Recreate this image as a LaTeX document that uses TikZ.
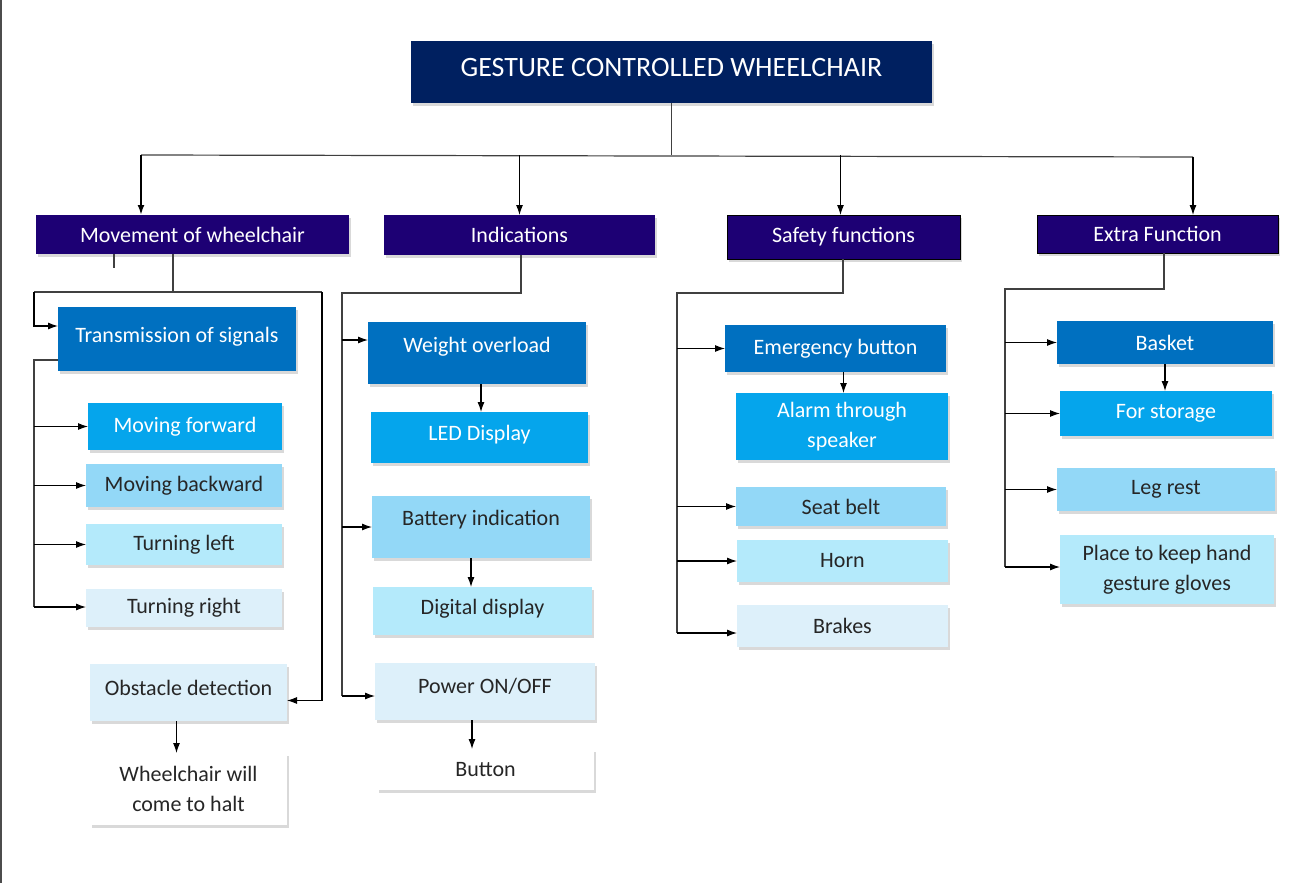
\documentclass[tikz,border=0pt]{standalone}
\usepackage{fontspec}
\setmainfont{Carlito}
\usetikzlibrary{arrows.meta,shadows}
\definecolor{titleblue}{HTML}{002060}
\definecolor{hdrblue}{HTML}{1D0074}
\definecolor{levelA}{HTML}{0070C0}
\definecolor{levelB}{HTML}{05A5EC}
\definecolor{levelC}{HTML}{93D8F7}
\definecolor{levelD}{HTML}{B4EAFB}
\definecolor{levelE}{HTML}{DDF0FA}
\definecolor{linegray}{HTML}{404040}
\begin{document}
\begin{tikzpicture}[x=1pt,y=-1pt,
            box/.style={rectangle, inner sep=2pt, outer sep=0pt, align=center,
                font=\fontsize{22}{30}\selectfont,
                drop shadow={shadow xshift=2pt, shadow yshift=-3pt, opacity=0.3}},
            title box/.style={box, fill=titleblue, text=white, font=\fontsize{28}{32}\selectfont},
            hdr box/.style={box, fill=hdrblue, text=white},
            a box/.style={box, fill=levelA, text=white},
            b box/.style={box, fill=levelB, text=white},
            c box/.style={box, fill=levelC, text=black!85},
            d box/.style={box, fill=levelD, text=black!85},
            e box/.style={box, fill=levelE, text=black!85},
            w box/.style={box, fill=white, text=black!85},
            line/.style={draw=linegray, line width=1.2pt},
            arr/.style={draw=black, line width=1.1pt, -{Latex[length=10pt,width=7pt]}}
    ]
        \useasboundingbox (0,0) rectangle (1298,883);
        \draw[line width=1.5pt, black!70] (1,0) -- (1,883);

        % Title
        \node[title box, text depth=10pt, minimum width=521, minimum height=62] (title) at (671.5,72) {GESTURE CONTROLLED WHEELCHAIR};

        % Main headings
        \node[hdr box, minimum width=313, minimum height=39] (move) at (192.5,234.5) {Movement of wheelchair};
        \node[hdr box, minimum width=271, minimum height=40] (indic) at (519.5,235) {Indications};
        \node[hdr box, draw=black, minimum width=233, minimum height=44] (safety) at (843.5,237) {Safety functions};
        \node[hdr box, draw=black, minimum width=241, minimum height=38] (extra) at (1157.5,234) {Extra Function};

        % Movement of wheelchair
        \node[a box, text depth=9pt, minimum width=238, minimum height=64] (trans) at (177,339) {Transmission of signals};
        \node[b box, minimum width=194, minimum height=47] (fwd) at (185,426.5) {Moving forward};
        \node[c box, minimum width=196, minimum height=43] (bwd) at (184,485.5) {Moving backward};
        \node[d box, minimum width=196, minimum height=41] (tleft) at (184,544.5) {Turning left};
        \node[e box, minimum width=196, minimum height=38] (tright) at (184,608) {Turning right};
        \node[e box, text depth=10pt, minimum width=197, minimum height=57] (obst) at (188.5,692.5) {Obstacle detection};
        \node[w box, minimum width=197, minimum height=72] (halt) at (188.5,789) {Wheelchair will\\come to halt};

        % Indications
        \node[a box, text depth=17pt, minimum width=218, minimum height=62] (weight) at (477,353) {Weight overload};
        \node[b box, text depth=10pt, minimum width=217, minimum height=51] (led) at (479.5,437.5) {LED Display};
        \node[c box, text depth=18pt, minimum width=218, minimum height=62] (battery) at (481,527) {Battery indication};
        \node[d box, text depth=9pt, minimum width=219, minimum height=48] (digital) at (482.5,611) {Digital display};
        \node[e box, text depth=12pt, minimum width=220, minimum height=57] (power) at (485,691.5) {Power ON/OFF};
        \node[w box, minimum width=217, minimum height=41] (button) at (485.5,769.5) {Button};

        % Safety functions
        \node[a box, minimum width=221, minimum height=47] (emerg) at (835.5,348.5) {Emergency button};
        \node[b box, minimum width=212, minimum height=67] (alarm) at (842,426.5) {Alarm through\\speaker};
        \node[c box, minimum width=210, minimum height=39] (seatbelt) at (841,506.5) {Seat belt};
        \node[d box, minimum width=211, minimum height=42] (horn) at (842.5,561) {Horn};
        \node[e box, minimum width=211, minimum height=42] (brakes) at (842.5,626) {Brakes};

        % Extra Function
        \node[a box, minimum width=216, minimum height=43] (basket) at (1165,342.5) {Basket};
        \node[b box, minimum width=212, minimum height=45] (storage) at (1166,413.5) {For storage};
        \node[c box, minimum width=218, minimum height=43] (legrest) at (1166,489.5) {Leg rest};
        \node[d box, minimum width=214, minimum height=69] (gloves) at (1167,569.5) {Place to keep hand\\gesture gloves};

        % Top bus
        \coordinate (busL) at (141,155);
        \coordinate (busR) at (1193,157);
        \draw[line] (title) -- (title |- busL);
        \draw[line] (busL) -- (busR);
        \draw[arr, line width=2pt] (busL) -- (busL |- move.north);
        \draw[arr] (indic.north |- busL) -- (indic.north);
        \draw[arr] ([xshift=-3pt]safety.north |- busL) -- ([xshift=-3pt]safety.north);
        \draw[arr] (busR) -- (busR |- extra.north);

        % Movement arrows
        \coordinate (mvT) at (173,292);
        \coordinate (mvL) at (34,292);
        \coordinate (mvR) at (322,292);
        \coordinate (trB) at (34,607);
        \draw[line] (mvT |- move.south) -- (mvT);
        \draw[line] (114,254) -- (114,268);
        \draw[line] (mvL) -- (mvR);
        \draw[arr] (mvL) |- ([yshift=13pt]trans.west);
        \draw[line] ([yshift=-21pt]trans.west) -| (trB);
        \draw[arr] (trB |- fwd.west) -- (fwd.west);
        \draw[arr] (trB |- bwd.west) -- (bwd.west);
        \draw[arr] (trB |- tleft.west) -- (tleft.west);
        \draw[arr] (trB) -- (trB -| tright.west);
        \draw[arr] (mvR) |- ([yshift=-8pt]obst.east);
        \draw[arr] ([xshift=-12pt]obst.south) -- ([xshift=-12pt]halt.north);

        % Indications arrows
        \coordinate (inT) at (521,293);
        \coordinate (inL) at (342,293);
        \coordinate (inB) at (342,696);
        \draw[line] (inT |- indic.south) -- (inT) -- (inL) -- (inB);
        \draw[arr] (inL |- 0,340) -- (weight.west |- 0,340);
        \draw[arr] (inL |- battery.west) -- (battery.west);
        \draw[arr] (inB) -- (inB -| power.west);
        \draw[arr] ([xshift=4pt]weight.south) -- ([xshift=4pt]weight.south |- led.north);
        \draw[arr] ([xshift=-10pt]battery.south) -- ([xshift=-10pt]battery.south |- digital.north);
        \draw[arr] ([xshift=-13pt]power.south) -- ([xshift=-13pt]power.south |- button.north);

        % Safety arrows
        \coordinate (sfT) at (843,293);
        \coordinate (sfL) at (677,293);
        \coordinate (sfB) at (677,633);
        \draw[line] (sfT |- safety.south) -- (sfT) -- (sfL) -- (sfB);
        \draw[arr] (sfL |- emerg.west) -- (emerg.west);
        \draw[arr] (sfL |- seatbelt.west) -- (seatbelt.west);
        \draw[arr] (sfL |- horn.west) -- (horn.west);
        \draw[arr] (sfB) -- (sfB -| brakes.west);
        \draw[arr] ([xshift=8pt]emerg.south) -- ([xshift=8pt]emerg.south |- alarm.north);

        % Extra Function arrows
        \coordinate (exT) at (1164,289);
        \coordinate (exL) at (1005,289);
        \coordinate (exB) at (1005,567);
        \draw[line] (exT |- extra.south) -- (exT) -- (exL) -- (exB);
        \draw[arr] (exL |- basket.west) -- (basket.west);
        \draw[arr] (exL |- storage.west) -- (storage.west);
        \draw[arr] (exL |- legrest.west) -- (legrest.west);
        \draw[arr] (exB) -- (exB -| gloves.west);
        \draw[arr] (basket.south) -- (basket.south |- storage.north);

    \end{tikzpicture}
\end{document}
